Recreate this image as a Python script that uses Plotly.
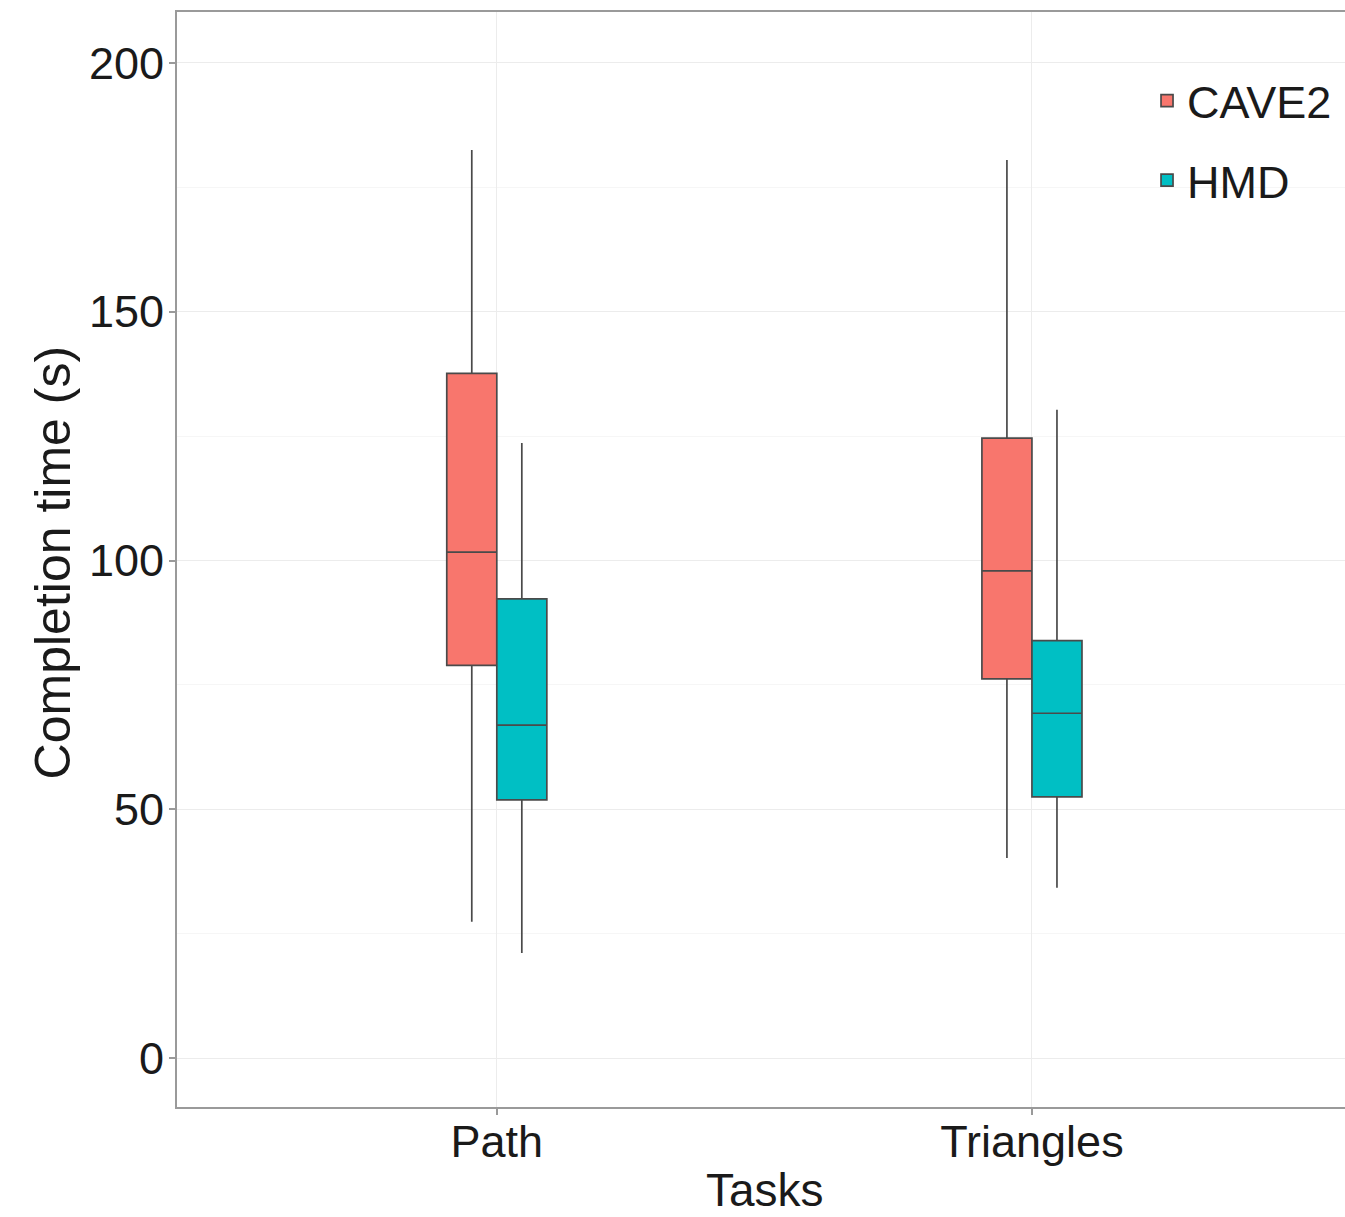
import plotly.graph_objects as go

# Task categories and per-device summary statistics (seconds)
tasks = ["Path", "Triangles"]

cave2_lower = [27.4, 40.2]
cave2_q1 = [78.9, 76.2]
cave2_median = [101.7, 97.9]
cave2_q3 = [137.6, 124.6]
cave2_upper = [182.5, 180.5]

hmd_lower = [21.1, 34.2]
hmd_q1 = [51.9, 52.5]
hmd_median = [66.9, 69.3]
hmd_q3 = [92.3, 83.9]
hmd_upper = [123.6, 130.3]

y_ticks = [0, 50, 100, 150, 200]

FONT = "Liberation Sans, Arial, sans-serif"
TEXT = "#1a1a1a"
LINE = "#4a4a4a"

fig = go.Figure()

fig.add_trace(go.Box(
    name="CAVE2", legendgroup="CAVE2", x=tasks,
    lowerfence=cave2_lower, q1=cave2_q1, median=cave2_median,
    q3=cave2_q3, upperfence=cave2_upper,
    fillcolor="#F8766D", line=dict(color=LINE, width=1.7),
    whiskerwidth=0, boxpoints=False, hoverinfo="y",
))
fig.add_trace(go.Box(
    name="HMD", legendgroup="HMD", x=tasks,
    lowerfence=hmd_lower, q1=hmd_q1, median=hmd_median,
    q3=hmd_q3, upperfence=hmd_upper,
    fillcolor="#00BFC4", line=dict(color=LINE, width=1.7),
    whiskerwidth=0, boxpoints=False, hoverinfo="y",
))

fig.update_layout(
    width=1345, height=1217,
    margin=dict(l=177, r=0, t=12, b=110),
    paper_bgcolor="white", plot_bgcolor="white",
    boxmode="group", boxgap=0.813, boxgroupgap=0,
    font=dict(family=FONT, color=TEXT),
    showlegend=True,
    legend=dict(
        x=0.8305, y=0.9517, xanchor="left", yanchor="top",
        font=dict(size=45, color=TEXT, family=FONT),
        bgcolor="rgba(0,0,0,0)", tracegroupgap=18,
    ),
    xaxis=dict(
        type="category", range=[-0.5976, 1.585],
        showgrid=True, gridcolor="#ececec", gridwidth=1.3,
        showline=True, linecolor="#9a9a9a", linewidth=2, mirror=True,
        ticks="outside", ticklen=6, tickcolor="#9a9a9a", tickwidth=1.5,
        ticklabelstandoff=-12,
        tickfont=dict(size=45, color=TEXT, family=FONT),
        zeroline=False,
    ),
    yaxis=dict(
        range=[-9.85, 210.25],
        tickvals=y_ticks, ticktext=[str(v) for v in y_ticks],
        showgrid=True, gridcolor="#ececec", gridwidth=1.3,
        minor=dict(dtick=25, tick0=0, showgrid=True,
                   gridcolor="#f6f6f6", gridwidth=1.2, ticks=""),
        showline=True, linecolor="#9a9a9a", linewidth=2, mirror=False,
        ticks="outside", ticklen=6, tickcolor="#9a9a9a", tickwidth=1.5,
        ticklabelstandoff=-4,
        tickfont=dict(size=45, color=TEXT, family=FONT),
        zeroline=False,
    ),
    annotations=[
        dict(text="Completion time (s)", textangle=-90,
             xref="paper", yref="paper", x=-0.1065, y=0.497,
             xanchor="center", yanchor="middle", showarrow=False,
             font=dict(size=50, color=TEXT, family=FONT)),
        dict(text="Tasks", xref="paper", yref="paper",
             x=0.503, y=-0.076, xanchor="center", yanchor="middle",
             showarrow=False, font=dict(size=46, color=TEXT, family=FONT)),
    ],
)

fig.write_html("out.html")
